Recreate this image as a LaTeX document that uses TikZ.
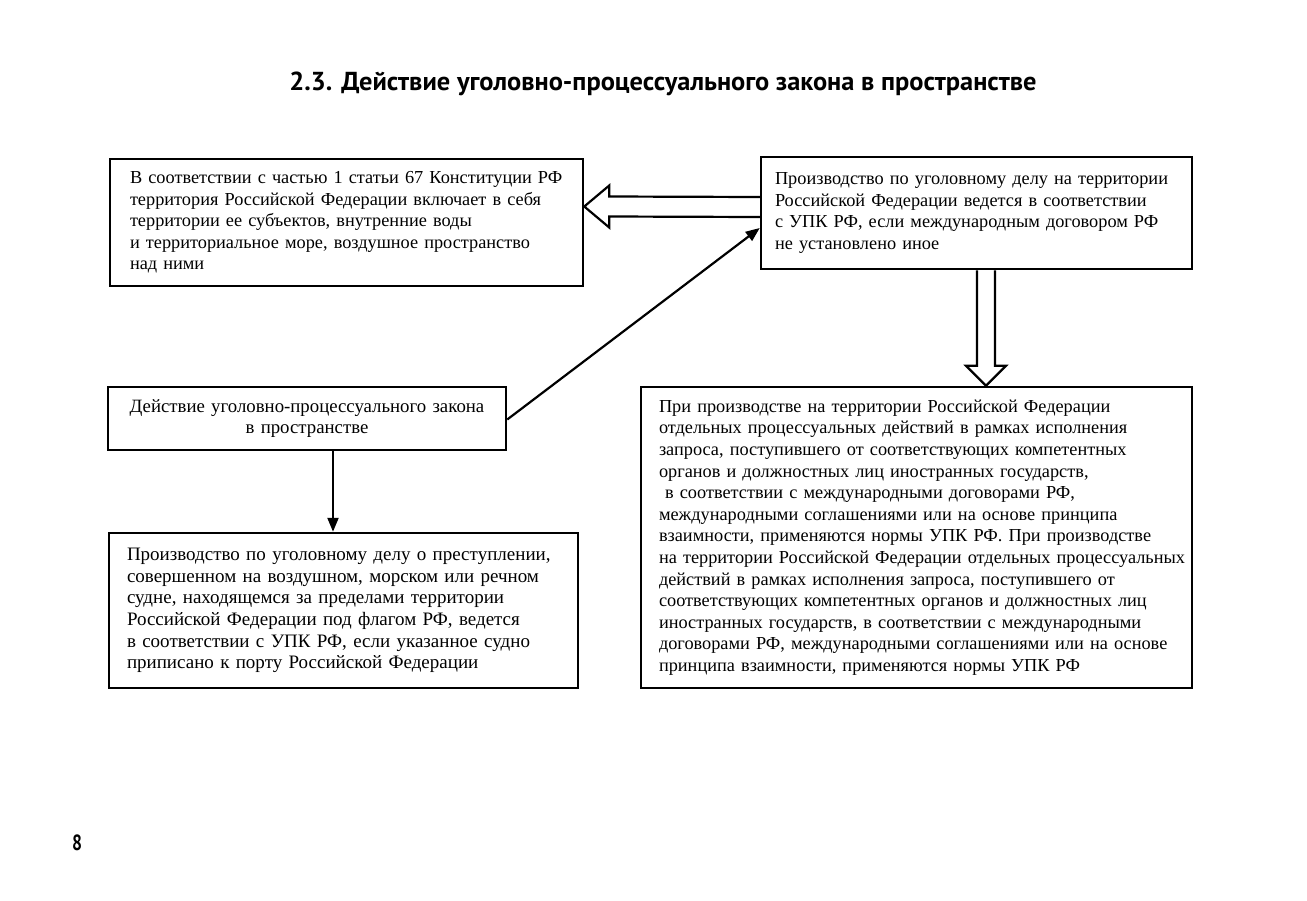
\documentclass[tikz,border=0pt]{standalone}
\usepackage{fontspec}
\usepackage{graphicx}
\setmainfont{Liberation Serif}
\newfontfamily\titlefont{PT Sans}
\usetikzlibrary{calc,arrows.meta}
\newcommand{\bline}[1]{\mbox{#1}}
\begin{document}
\begin{tikzpicture}[x=1pt,y=-1pt,
  box/.style={draw, line width=2.5pt, align=left, inner ysep=0pt},
  fs/.style={font=\fontsize{#1}{21.6}\selectfont},
  arr/.style={line width=2.2pt, -{Triangle[length=14pt,width=11pt]}},
  hollow/.style={line width=2.2pt, line join=miter}]
\useasboundingbox (0,0) rectangle (1307,900);
\fill[white] (0,0) rectangle (1307,900);
\node[font=\titlefont\bfseries\fontsize{26}{30}\selectfont] (title) at (663,84) {\resizebox{747pt}{\height}{2.3. Действие уголовно-процессуального закона в пространстве}};
\node[box, fs=18.3, inner xsep=20pt, text width=433pt, minimum height=127pt] (A) at (346.5,222.5)
 {\bline{В соответствии с частью 1 статьи 67 Конституции РФ}\\
 \bline{территория Российской Федерации включает в себя}\\
 \bline{территории ее субъектов, внутренние воды}\\
 \bline{и территориальное море, воздушное пространство}\\
 \bline{над ними}};
\node[box, fs=18.3, inner xsep=14pt, text width=403pt, minimum height=112pt] (B) at (976.5,213)
 {\bline{Производство по уголовному делу на территории}\\
 \bline{Российской Федерации ведется в соответствии}\\
 \bline{с УПК РФ, если международным договором РФ}\\
 \bline{не установлено иное}};
\node[box, fs=18.8, align=center, inner xsep=10pt, text width=378pt, minimum height=63pt] (C) at (307,418.5)
 {\bline{Действие уголовно-процессуального закона}\\ \bline{в пространстве}};
\node[box, fs=19, inner xsep=18pt, text width=433pt, minimum height=155pt] (D) at (343.5,610.5)
 {\bline{Производство по уголовному делу о преступлении,}\\
 \bline{совершенном на воздушном, морском или речном}\\
 \bline{судне, находящемся за пределами территории}\\
 \bline{Российской Федерации под флагом РФ, ведется}\\
 \bline{в соответствии с УПК РФ, если указанное судно}\\
 \bline{приписано к порту Российской Федерации}};
\node[box, fs=18.3, inner xsep=18pt, text width=515pt, minimum height=301pt] (E) at (916.5,537.5)
 {\bline{При производстве на территории Российской Федерации}\\
 \bline{отдельных процессуальных действий в рамках исполнения}\\
 \bline{запроса, поступившего от соответствующих компетентных}\\
 \bline{органов и должностных лиц иностранных государств,}\\
 \bline{\ в соответствии с международными договорами РФ,}\\
 \bline{международными соглашениями или на основе принципа}\\
 \bline{взаимности, применяются нормы УПК РФ. При производстве}\\
 \bline{на территории Российской Федерации отдельных процессуальных}\\
 \bline{действий в рамках исполнения запроса, поступившего от}\\
 \bline{соответствующих компетентных органов и должностных лиц}\\
 \bline{иностранных государств, в соответствии с международными}\\
 \bline{договорами РФ, международными соглашениями или на основе}\\
 \bline{принципа взаимности, применяются нормы УПК РФ}};
\node[font=\titlefont\bfseries\fontsize{22}{24}\selectfont] (page) at (77,843) {\resizebox{10pt}{\height}{8}};
% hollow left arrow B -> A
\coordinate (lt) at ([yshift=16pt]A.east);
\coordinate (ls) at ([yshift=6pt]B.west);
\draw[hollow] ($(ls)+(0,-10)$) -- ($(lt)+(25,-10)$) -- ++(0,-11) -- (lt) -- ($(lt)+(25,21)$) -- ++(0,-11) -- ($(ls)+(0,10)$);
% hollow down arrow B -> E
\coordinate (dt) at ([xshift=69.5pt]E.north);
\draw[hollow] ($(dt|-B.south)+(-9,0)$) -- ($(dt)+(-9,-20)$) -- ++(-11,0) -- (dt) -- ($(dt)+(20,-20)$) -- ++(-11,0) -- ($(dt|-B.south)+(9,0)$);
% diagonal arrow C -> B
\draw[arr] ([yshift=-1pt]C.east) -- ([yshift=-15pt]B.west);
% vertical arrow C -> D
\draw[arr] ([xshift=26pt]C.south) -- ([xshift=26pt]C.south |- D.north);
\end{tikzpicture}
\end{document}
